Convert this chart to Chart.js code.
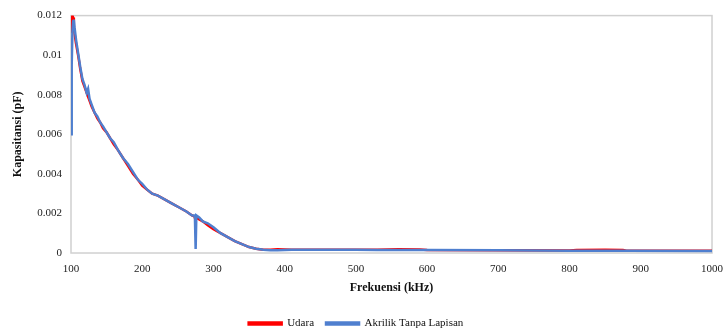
<!DOCTYPE html>
<html>
<head>
<meta charset="utf-8">
<script src="https://cdn.jsdelivr.net/npm/chart.js@4/dist/chart.umd.min.js"></script>
<style>
  body { margin: 0; background: #fff; }
  #wrap { width: 723px; height: 335px; }
</style>
</head>
<body>
<div id="wrap"><canvas id="grafico" width="723" height="335"></canvas></div>
<script>
// Frekuensi (kHz)
const frekuensi = [100, 101, 102, 103, 104, 105, 107, 110, 113, 116, 119, 122, 124, 126, 129, 133, 137, 141, 145, 150,
  155, 160, 166, 173, 180, 187, 194, 200, 207, 214, 222, 232, 242, 252, 262, 270, 273, 274, 275, 276,
  280, 285, 292, 300, 310, 320, 330, 340, 350, 360, 370, 380, 390, 400, 410, 450, 500, 530, 560, 590,
  600, 700, 800, 810, 850, 875, 880, 1000];

// Kapasitansi (pF)
const udara = [0.0112, 0.0118, 0.0120, 0.0119, 0.0115, 0.0111, 0.0106, 0.0100, 0.0093, 0.0087, 0.0084, 0.0081, 0.0079, 0.0077, 0.0074, 0.0071, 0.0068, 0.0066, 0.0063, 0.0061,
  0.0058, 0.0055, 0.0052, 0.0048, 0.0044, 0.0040, 0.0037, 0.0034, 0.0032, 0.0030, 0.0029, 0.0027, 0.0025, 0.0023, 0.0021, 0.0019, 0.00185, 0.0018, 0.0018, 0.00178,
  0.0017, 0.0016, 0.0014, 0.0012, 0.0010, 0.0008, 0.0006, 0.00045, 0.0003, 0.00022, 0.00017, 0.00016, 0.00019, 0.00018, 0.00016, 0.00016, 0.00016, 0.00017, 0.00019, 0.00018,
  0.00015, 0.00014, 0.00013, 0.00015, 0.00016, 0.00015, 0.00012, 0.00011];

const akrilik = [0.0060, 0.0095, 0.0112, 0.0117, 0.0118, 0.0114, 0.0108, 0.0101, 0.0094, 0.0088, 0.0085, 0.0081, 0.0083, 0.0078, 0.0075, 0.0071, 0.0069, 0.0066, 0.0064, 0.0061,
  0.0058, 0.0056, 0.0052, 0.0048, 0.0045, 0.0041, 0.0037, 0.0035, 0.0032, 0.0030, 0.0029, 0.0027, 0.0025, 0.0023, 0.0021, 0.0019, 0.0019, 0.0018, 0.0002, 0.0019,
  0.0018, 0.0016, 0.0015, 0.0013, 0.0010, 0.0008, 0.0006, 0.00045, 0.0003, 0.00022, 0.00016, 0.00014, 0.00014, 0.00015, 0.00016, 0.00016, 0.00016, 0.00015, 0.00015, 0.00015,
  0.00015, 0.00014, 0.00012, 0.00012, 0.00012, 0.00012, 0.00012, 0.0001];

const ticksX = [100, 200, 300, 400, 500, 600, 700, 800, 900, 1000];
const ticksY = [0, 0.002, 0.004, 0.006, 0.008, 0.01, 0.012];

const fuente = "'Liberation Serif', 'Times New Roman', serif";

// marco gris del area del grafico + bajar un poco la leyenda
const marco = {
  id: 'marco',
  afterLayout(chart) {
    if (chart.legend) {
      chart.legend.top += 4;
      chart.legend.bottom += 4;
    }
  },
  beforeDatasetsDraw(chart) {
    const { ctx, chartArea: a } = chart;
    ctx.save();
    ctx.strokeStyle = '#d0d0d0';
    ctx.lineWidth = 1.5;
    ctx.strokeRect(a.left, a.top, a.right - a.left, a.bottom - a.top);
    ctx.restore();
  }
};

const puntos = arr => frekuensi.map((f, i) => ({ x: f, y: arr[i] }));

new Chart(document.getElementById('grafico'), {
  type: 'line',
  data: {
    datasets: [
      {
        label: 'Udara',
        data: puntos(udara),
        borderColor: '#ff0000',
        backgroundColor: '#ff0000',
        borderWidth: 2.5,
        pointRadius: 0,
        tension: 0,
        order: 1
      },
      {
        label: 'Akrilik Tanpa Lapisan',
        data: puntos(akrilik),
        borderColor: '#4f7fcf',
        backgroundColor: '#4f7fcf',
        borderWidth: 2.5,
        pointRadius: 0,
        tension: 0,
        order: 0
      }
    ]
  },
  options: {
    responsive: false,
    devicePixelRatio: 1,
    animation: false,
    layout: { padding: { top: 15, right: 11, left: 0, bottom: 0 } },
    plugins: {
      legend: {
        position: 'bottom',
        labels: {
          font: { family: fuente, size: 11 },
          color: '#111',
          boxWidth: 33,
          boxHeight: 2,
          padding: 12,
          sort: (a, b) => a.datasetIndex - b.datasetIndex
        }
      },
      tooltip: { enabled: false }
    },
    scales: {
      x: {
        type: 'linear',
        min: 100,
        max: 1000,
        grid: { display: false, drawTicks: false },
        border: { display: false },
        afterBuildTicks: s => { s.ticks = ticksX.map(v => ({ value: v })); },
        afterFit: s => { s.height = 49; s.paddingLeft = 0; s.paddingRight = 0; },
        ticks: { font: { family: fuente, size: 11 }, color: '#222', padding: 10, maxRotation: 0, autoSkip: false, callback: v => String(v) },
        title: { display: true, text: 'Frekuensi (kHz)', font: { family: fuente, size: 12, weight: 'bold' }, color: '#111', padding: { top: 0, bottom: 7 } }
      },
      y: {
        min: 0,
        max: 0.012,
        grid: { display: false, drawTicks: false },
        border: { display: false },
        afterBuildTicks: s => { s.ticks = ticksY.map(v => ({ value: v })); },
        afterFit: s => { s.width = 71; },
        ticks: { font: { family: fuente, size: 11 }, color: '#222', padding: 9, callback: v => String(v) },
        title: { display: true, text: 'Kapasitansi (pF)', font: { family: fuente, size: 12, weight: 'bold' }, color: '#111', padding: { top: 11, bottom: 0 } }
      }
    }
  },
  plugins: [marco]
});
</script>
</body>
</html>
